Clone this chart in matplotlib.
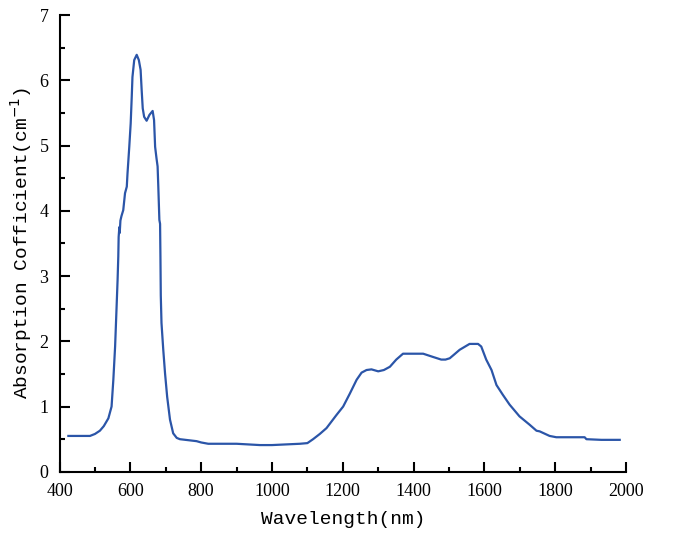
import matplotlib
matplotlib.use("Agg")
import matplotlib.pyplot as plt
from matplotlib.ticker import MultipleLocator

wavelength = [425, 486, 500, 514, 525, 538, 547, 552, 557, 561, 564, 566, 567, 569, 570,
              572, 575, 580, 585, 590, 592, 597, 601, 604, 606, 611, 618, 624, 629, 632,
              635, 639, 646, 654, 663, 667, 670, 674, 677, 679, 682, 684, 685, 686, 688,
              693, 698, 704, 712, 721, 731, 740, 787, 800, 820, 900, 966, 1000, 1079,
              1100, 1116, 1135, 1154, 1182, 1201, 1220, 1239, 1253, 1267, 1281, 1300,
              1316, 1333, 1351, 1370, 1400, 1427, 1455, 1478, 1490, 1502, 1515, 1530,
              1558, 1582, 1591, 1605, 1620, 1634, 1652, 1671, 1699, 1728, 1747, 1756,
              1784, 1803, 1850, 1883, 1888, 1930, 1982]
absorption = [0.55, 0.55, 0.58, 0.63, 0.70, 0.82, 1.00, 1.41, 1.92, 2.50, 2.94, 3.30, 3.60,
              3.75, 3.66, 3.85, 3.92, 4.01, 4.27, 4.37, 4.57, 4.98, 5.34, 5.75, 6.05, 6.31,
              6.39, 6.31, 6.16, 5.85, 5.57, 5.44, 5.38, 5.47, 5.53, 5.39, 4.98, 4.80, 4.68,
              4.37, 3.86, 3.80, 3.30, 2.70, 2.28, 1.87, 1.51, 1.15, 0.80, 0.59, 0.52, 0.50,
              0.47, 0.45, 0.43, 0.43, 0.41, 0.41, 0.43, 0.44, 0.50, 0.58, 0.67, 0.87, 1.00,
              1.20, 1.41, 1.52, 1.56, 1.57, 1.54, 1.56, 1.61, 1.72, 1.81, 1.81, 1.81, 1.76,
              1.72, 1.72, 1.74, 1.80, 1.87, 1.96, 1.96, 1.92, 1.72, 1.56, 1.33, 1.18, 1.03,
              0.85, 0.72, 0.63, 0.62, 0.55, 0.53, 0.53, 0.53, 0.50, 0.49, 0.49]

x_label = "Wavelength(nm)"
y_label = "Absorption Cofficient(cm$^{-1}$)"

fig = plt.figure(figsize=(6.88, 5.48), dpi=100)
ax = fig.add_axes([0.0865, 0.139, 0.8235, 0.8336])
ax.plot(wavelength, absorption, color="#2b55a8", lw=1.6)

ax.set_xlim(400, 2000)
ax.set_ylim(0, 7)
ax.xaxis.set_major_locator(MultipleLocator(200))
ax.xaxis.set_minor_locator(MultipleLocator(100))
ax.yaxis.set_major_locator(MultipleLocator(1))
ax.yaxis.set_minor_locator(MultipleLocator(0.5))

for s in ["top", "right"]:
    ax.spines[s].set_visible(False)
for s in ["left", "bottom"]:
    ax.spines[s].set_linewidth(1.5)

ax.tick_params(which="major", direction="in", length=7, width=1.5, pad=8)
ax.tick_params(which="minor", direction="in", length=3.5, width=1.5)
for lab in ax.get_xticklabels() + ax.get_yticklabels():
    lab.set_fontfamily("Liberation Serif")
    lab.set_fontsize(13)

lab_font = dict(family="Liberation Mono", size=14)
ax.set_xlabel(x_label, fontdict=lab_font, labelpad=8)
ax.set_ylabel(y_label, fontdict=lab_font, labelpad=4)

fig.savefig("out.png", dpi=100)
